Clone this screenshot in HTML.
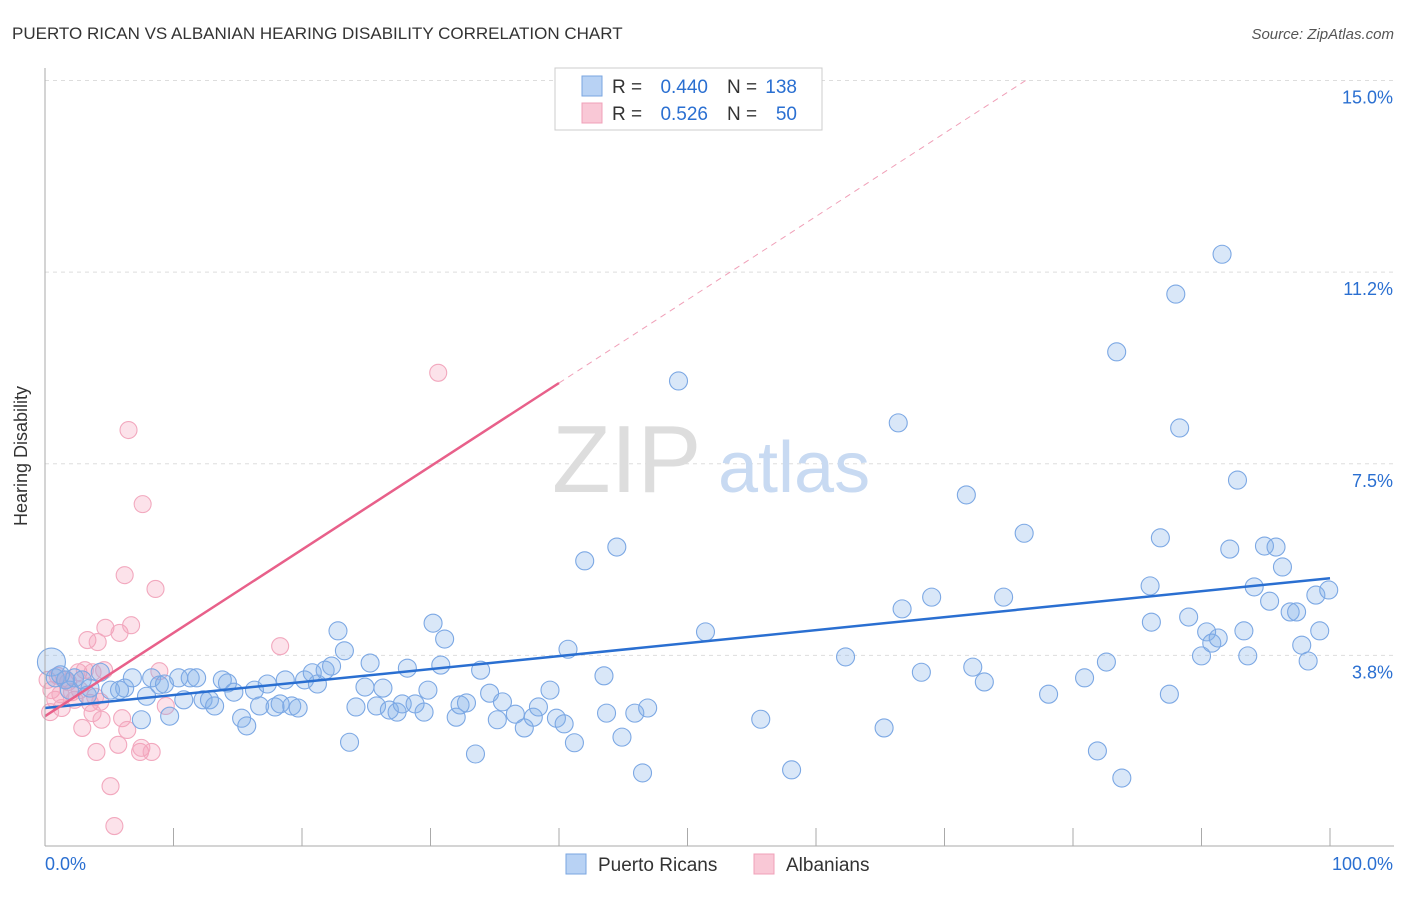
<!DOCTYPE html>
<html><head><meta charset="utf-8"><style>
body{margin:0;background:#fff;font-family:"Liberation Sans",sans-serif}
svg text{font-family:"Liberation Sans",sans-serif}
</style></head><body>
<svg width="1406" height="892" viewBox="0 0 1406 892">
<text x="12" y="39" font-size="17" fill="#333">PUERTO RICAN VS ALBANIAN HEARING DISABILITY CORRELATION CHART</text>
<text x="1394" y="39" font-size="15" fill="#555" font-style="italic" text-anchor="end">Source: ZipAtlas.com</text>
<g id="grid"></g>
<g><text x="552" y="492" font-size="96" font-family="Liberation Serif" fill="#ddd">ZIP</text><text x="718" y="492" font-size="72" fill="#c8daf2">atlas</text></g>
<g id="pts"></g>
<g id="lines"></g>
<g id="axes"></g>
<text x="27" y="456" font-size="18" fill="#333" text-anchor="middle" transform="rotate(-90 27 456)">Hearing Disability</text>
<g>
<rect x="555" y="68" width="267" height="62" fill="#fff" stroke="#ccc"/>
<rect x="582" y="76" width="20" height="20" fill="#b8d2f4" stroke="#7aa6e0"/>
<text x="612" y="93" font-size="19" fill="#333">R =</text>
<text x="708" y="93" font-size="19" fill="#2a6fd1" text-anchor="end">0.440</text>
<text x="727" y="93" font-size="19" fill="#333">N =</text>
<text x="797" y="93" font-size="19" fill="#2a6fd1" text-anchor="end">138</text>
<rect x="582" y="103" width="20" height="20" fill="#f9c8d6" stroke="#f0a0b8"/>
<text x="612" y="120" font-size="19" fill="#333">R =</text>
<text x="708" y="120" font-size="19" fill="#2a6fd1" text-anchor="end">0.526</text>
<text x="727" y="120" font-size="19" fill="#333">N =</text>
<text x="797" y="120" font-size="19" fill="#2a6fd1" text-anchor="end">50</text>
</g>
<g>
<rect x="566" y="854" width="20" height="20" fill="#b8d2f4" stroke="#7aa6e0"/>
<text x="598" y="871" font-size="19" fill="#333">Puerto Ricans</text>
<rect x="754" y="854" width="20" height="20" fill="#f9c8d6" stroke="#f0a0b8"/>
<text x="786" y="871" font-size="19" fill="#333">Albanians</text>
</g>
</svg>
<script>
const blueX=[0.5,0.8,1.6,2.3,3.5,4.3,5.1,6.2,6.8,7.5,7.9,8.3,8.9,9.3,9.7,10.4,10.8,11.3,11.8,12.3,12.8,13.2,13.8,14.2,14.7,15.3,15.7,16.3,16.7,17.3,17.9,18.3,18.7,19.2,19.7,20.2,20.8,21.2,21.8,22.3,22.8,23.3,23.7,24.2,24.9,25.3,25.8,26.3,26.8,27.4,27.8,28.2,28.8,29.5,29.8,30.2,30.8,31.1,32.0,32.3,32.8,33.5,33.9,34.6,35.2,35.6,36.6,37.3,38.0,38.4,39.3,39.8,40.4,40.7,41.2,42.0,43.5,43.7,44.5,44.9,45.9,46.5,46.9,49.3,51.4,55.7,58.1,62.3,65.3,66.4,66.7,68.2,69.0,71.7,72.2,73.1,74.6,76.2,78.1,80.9,81.9,82.6,83.4,83.8,86.0,86.1,86.8,87.5,88.0,88.3,89.0,90.0,90.4,90.8,91.3,91.6,92.2,92.8,93.3,93.6,94.1,94.9,95.3,95.8,96.3,96.9,97.4,97.8,98.3,98.9,99.2,99.9,1.2,1.9,2.9,3.3,5.8];
const blueY=[3.62,3.31,3.27,3.31,3.11,3.42,3.07,3.11,3.31,2.49,2.95,3.31,3.17,3.19,2.56,3.31,2.88,3.31,3.31,2.88,2.88,2.76,3.27,3.21,3.03,2.52,2.37,3.07,2.76,3.19,2.74,2.80,3.27,2.76,2.72,3.27,3.41,3.19,3.46,3.54,4.23,3.84,2.05,2.74,3.13,3.60,2.76,3.11,2.68,2.64,2.80,3.50,2.80,2.64,3.07,4.38,3.56,4.07,2.54,2.78,2.82,1.82,3.46,3.01,2.49,2.84,2.60,2.33,2.54,2.74,3.07,2.52,2.41,3.87,2.04,5.60,3.35,2.62,5.87,2.15,2.62,1.45,2.72,9.12,4.21,2.50,1.51,3.72,2.33,8.30,4.66,3.42,4.89,6.89,3.52,3.23,4.89,6.14,2.99,3.31,1.88,3.62,9.69,1.35,5.11,4.40,6.05,2.99,10.82,8.20,4.50,3.74,4.21,3.99,4.09,11.60,5.83,7.18,4.23,3.74,5.09,5.89,4.81,5.87,5.48,4.60,4.60,3.95,3.64,4.93,4.23,5.03,3.37,3.07,3.27,2.97,3.07];
const pinkX=[0.5,0.8,1.0,1.3,1.8,2.1,2.6,2.9,3.1,3.3,3.5,3.7,4.0,4.1,4.3,4.4,4.6,4.7,5.1,5.4,5.7,5.8,6.0,6.2,6.4,6.5,6.7,7.4,7.5,7.6,8.3,8.6,8.9,9.4,18.3,30.6,0.2,0.4,1.2,1.6,2.3,2.7,3.9,3.7];
const pinkY=[3.07,2.88,3.35,2.72,3.23,3.03,3.42,2.33,3.46,4.05,2.82,2.62,1.86,4.01,2.84,2.49,3.46,4.29,1.19,0.41,2.00,4.19,2.52,5.32,2.29,8.16,4.34,1.86,1.94,6.71,1.86,5.05,3.44,2.76,3.93,9.28,3.27,2.64,2.99,3.27,2.88,3.07,2.94,3.42];
const yTicks=[3.75,7.5,11.25,15];
const yTickLabels=["3.8%","7.5%","11.2%","15.0%"];
const blueLine=[2.72,5.26];
const pinkLine=[2.56,0.163];
const NS="http://www.w3.org/2000/svg";
const sx=v=>45+v*12.85, sy=v=>847-v*51.1;
function mk(t,a,p){const e=document.createElementNS(NS,t);for(const k in a)e.setAttribute(k,a[k]);p.appendChild(e);return e;}
const grid=document.getElementById('grid'),axes=document.getElementById('axes'),pts=document.getElementById('pts'),lines=document.getElementById('lines');
yTicks.forEach((v,i)=>{
 const l=mk('line',{x1:45,x2:1394,y1:sy(v),y2:sy(v),stroke:'#ddd','stroke-dasharray':'4,4'},grid);
 
 
 const t=mk('text',{x:1393,y:sy(v)+23,'font-size':18,fill:'#2a6fd1','text-anchor':'end'},axes);
 t.textContent=yTickLabels[i];
 
 
});
mk('line',{x1:45,x2:45,y1:68,y2:846,stroke:'#aaa'},axes);
mk('line',{x1:45,x2:1394,y1:846,y2:846,stroke:'#aaa'},axes);
for(let i=0;i<=10;i++){const t=mk('line',{x1:sx(i*10),x2:sx(i*10),y1:828,y2:846,stroke:'#aaa'},axes);
 
 }
let t0=mk('text',{x:45,y:870,'font-size':18,fill:'#2a6fd1'},axes);t0.textContent='0.0%';


let t1=mk('text',{x:1393,y:870,'font-size':18,fill:'#2a6fd1','text-anchor':'end'},axes);t1.textContent='100.0%';


pinkX.forEach((x,i)=>{const c=mk('circle',{cx:sx(x),cy:sy(pinkY[i]),r:8.5,fill:'rgba(245,160,185,0.3)',stroke:'#f2a8be','stroke-width':1.1},pts);
 
 });
blueX.forEach((x,i)=>{const c=mk('circle',{cx:sx(x),cy:sy(blueY[i]),r:i==0?14:9,fill:'rgba(130,175,232,0.3)',stroke:'#7ca8e4','stroke-width':1.1},pts);
 
 });
let bl=mk('line',{x1:sx(0),y1:sy(blueLine[0]),x2:sx(100),y2:sy(blueLine[1]),stroke:'#2a6fd1','stroke-width':2.5},lines);


const xe=(15-pinkLine[0])/pinkLine[1];
let pl=mk('line',{x1:sx(0),y1:sy(pinkLine[0]),x2:sx(40),y2:sy(pinkLine[0]+40*pinkLine[1]),stroke:'#e8608a','stroke-width':2.5},lines);


let pd=mk('line',{x1:sx(40),y1:sy(pinkLine[0]+40*pinkLine[1]),x2:sx(xe),y2:sy(15),stroke:'#f0a0b8','stroke-width':1,'stroke-dasharray':'6,5'},lines);


</script>
</body></html>
